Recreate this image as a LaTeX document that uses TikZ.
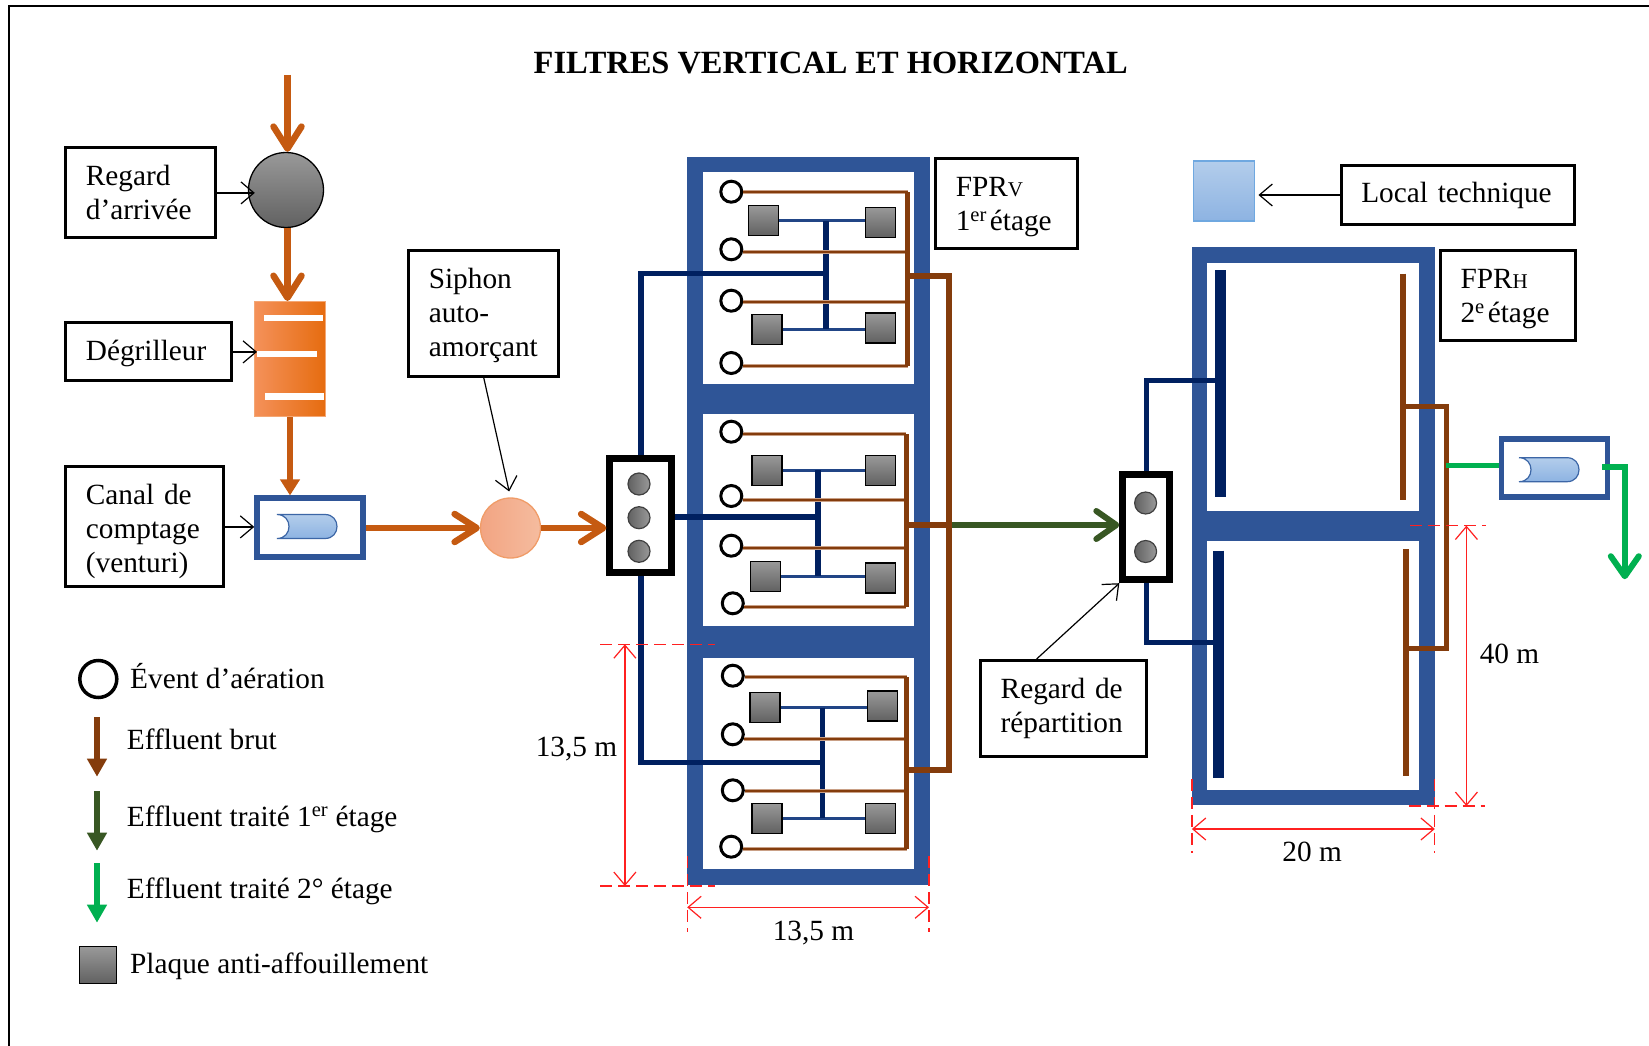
\documentclass[tikz,border=0pt]{standalone}
\usepackage{fontspec}
\setmainfont{Liberation Serif}
\usetikzlibrary{arrows.meta}

\definecolor{rawpipe}{HTML}{C55A11}
\definecolor{filterblue}{HTML}{2F5597}
\definecolor{navypipe}{HTML}{002060}
\definecolor{brownpipe}{HTML}{843C0C}
\definecolor{brownedge}{HTML}{C9A086}
\definecolor{darkgreen}{HTML}{385723}
\definecolor{lightgreen}{HTML}{00B050}
\definecolor{dimred}{HTML}{FF2020}
\definecolor{paleblue}{HTML}{B3CDEB}
\definecolor{midblue}{HTML}{8DB3E2}
\definecolor{skyedge}{HTML}{6FA8E0}
\definecolor{grillea}{HTML}{F4915A}
\definecolor{grilleb}{HTML}{F57C22}
\definecolor{grillec}{HTML}{E66C0F}
\definecolor{grilleedge}{HTML}{F4A774}
\definecolor{siphona}{HTML}{F2A482}
\definecolor{siphonb}{HTML}{F5BC9F}
\definecolor{siphonedge}{HTML}{F09C68}

\tikzset{
    every node/.style={font=\fontsize{29.3}{34}\selectfont},
    lbl/.style={draw=black, line width=3pt, anchor=north west, align=left, inner xsep=20pt, inner ysep=0pt},
    txt/.style={anchor=west, inner sep=0pt, text height=18pt, text depth=6pt},
    vent/.style={circle, draw=black, line width=3pt, fill=white, inner sep=0pt, minimum size=21pt},
    plate/.style={rectangle, draw=black, line width=1.4pt, top color=black!40, bottom color=black!62, inner sep=0pt, minimum size=30pt},
    ball/.style={circle, draw=black!75, line width=1.2pt, left color=black!62, right color=black!40, inner sep=0pt, minimum size=22pt},
    splitbox/.style={rectangle, draw=black, line width=7pt, fill=white, inner sep=0pt},
    canalbox/.style={rectangle, draw=filterblue, line width=5.5pt, fill=white, inner sep=0pt},
    rawflow/.style={draw=rawpipe, line width=6.5pt, -{Straight Barb[length=22pt,width=28pt,round]}},
    pointer/.style={draw=black, line width=1.2pt, -{Straight Barb[length=13pt,width=22pt]}},
    brownthin/.style={draw=brownedge, line width=4pt, postaction={draw=brownpipe, line width=2pt}},
    brownfat/.style={draw=brownpipe, line width=5pt},
    navyfat/.style={draw=navypipe, line width=5.5pt},
    navythin/.style={draw=filterblue!70!navypipe, line width=2.6pt},
    dimline/.style={draw=dimred, line width=1.2pt, {Straight Barb[length=13pt,width=22pt]}-{Straight Barb[length=13pt,width=22pt]}},
    dimdash/.style={draw=dimred, line width=1.2pt, dash pattern=on 12pt off 6pt},
    legendarrow/.style={line width=6.5pt, -{Triangle[length=18pt,width=19pt]}},
    venturi/.pic={
        \shade[top color=paleblue, bottom color=midblue, draw=filterblue!80!skyedge, line width=1.2pt]
            (-30,-12) -- (18,-12) .. controls (34,-12) and (34,12) .. (18,12) -- (-30,12) .. controls (-14,12) and (-14,-12) .. (-30,-12) -- cycle;
    }
}

\begin{document}
\begin{tikzpicture}[x=1pt, y=-1pt]
    \useasboundingbox (0,0) rectangle (1649,1046);
    \draw[line width=2pt] (8.5,1046) -- (8.5,6) -- (1649,6);

    \node[font=\fontsize{32.4}{32}\selectfont\bfseries, inner sep=0pt] (title) at (830.7,63) {FILTRES VERTICAL ET HORIZONTAL};

    % inlet line
    \coordinate (inlet) at (287.5,75);
    \node[circle, draw=black, line width=1.3pt, top color=black!40, bottom color=black!62, inner sep=0pt, minimum size=75pt] (regardcirc) at (286,190) {};
    \node[rectangle, draw=grilleedge, line width=1pt, left color=grillea, middle color=grilleb, right color=grillec, inner sep=0pt, minimum width=71pt, minimum height=115pt] (grille) at (290,359) {};
    \fill[white] (263.7,315.4) rectangle (323,321.4);
    \fill[white] (257.4,350.7) rectangle (316.7,356.8);
    \fill[white] (265.3,393) rectangle (324.2,400);
    \node[canalbox, minimum width=106pt, minimum height=59pt] (canalA) at (310,527.7) {};
    \pic at (307,526.5) {venturi};
    \node[circle, draw=siphonedge, line width=1.3pt, left color=siphona, right color=siphonb, inner sep=0pt, minimum size=60pt] (siphoncirc) at (510.5,528) {};

    \draw[rawflow] (inlet) -- (inlet |- regardcirc.north);
    \draw[rawflow] (regardcirc.south -| inlet) -- (inlet |- grille.north);
    \draw[draw=rawpipe, line width=6.5pt, -{Triangle[length=16pt,width=19pt]}] (grille.south) -- (grille |- canalA.north);
    \draw[rawflow] (canalA.east |- siphoncirc) -- (siphoncirc.west);

    % vertical filter
    \fill[filterblue] (686.7,156.7) rectangle (930,885);
    \fill[white] (702.7,172.3) rectangle (914,384);
    \fill[white] (702.7,414.3) rectangle (914,626);
    \fill[white] (702.7,657.7) rectangle (914,869.3);

    \node[splitbox, minimum width=62pt, minimum height=114pt] (splitV) at (640.9,515.3) {};
    \draw[rawflow] (siphoncirc.east) -- (siphoncirc -| splitV.west);

    \coordinate (treeA) at (826,273.3);
    \coordinate (treeB) at (818,517);
    \coordinate (treeC) at (822.7,762.3);
    \draw[navyfat] (splitV.north) |- (treeA);
    \draw[navyfat] (splitV.east |- treeB) -- (treeB);
    \draw[navyfat] (splitV.south) |- (treeC);

    \node[plate] (pA1) at (763.6,220.5) {};
    \node[plate] (pA2) at (880.5,222.2) {};
    \node[plate] (pA3) at (766.8,329.4) {};
    \node[plate] (pA4) at (880.5,327.8) {};
    \node[plate] (pB1) at (766.8,470.4) {};
    \node[plate] (pB2) at (880.5,470.4) {};
    \node[plate] (pB3) at (765.4,576.4) {};
    \node[plate] (pB4) at (880.5,577.8) {};
    \node[plate] (pC1) at (765.1,707.5) {};
    \node[plate] (pC2) at (882.2,706) {};
    \node[plate] (pC3) at (766.8,818.2) {};
    \node[plate] (pC4) at (880.3,818.2) {};

    \draw[navythin] (pA1.east) -- (pA1.east -| pA2.west);
    \draw[navythin] (pA3.east) -- (pA3.east -| pA4.west);
    \draw[navythin] (pB1.east) -- (pB2.west);
    \draw[navythin] (pB3.east) -- (pB3.east -| pB4.west);
    \draw[navythin] (pC1.east) -- (pC1.east -| pC2.west);
    \draw[navythin] (pC3.east) -- (pC4.west);
    \draw[navyfat] (pA1.east -| treeA) -- (pA3.east -| treeA);
    \draw[navyfat] (pB1.east -| treeB) -- (pB3.east -| treeB);
    \draw[navyfat] (pC1.east -| treeC) -- (pC3.east -| treeC);

    \node[vent] (vA1) at (731.3,191.7) {};
    \node[vent] (vA2) at (731.3,249.3) {};
    \node[vent] (vA3) at (731.3,300.7) {};
    \node[vent] (vA4) at (731.3,363) {};
    \node[vent] (vB1) at (731.3,431.7) {};
    \node[vent] (vB2) at (731.3,496) {};
    \node[vent] (vB3) at (731.3,545.7) {};
    \node[vent] (vB4) at (732.8,603.3) {};
    \node[vent] (vC1) at (732.8,675.7) {};
    \node[vent] (vC2) at (732.8,734.3) {};
    \node[vent] (vC3) at (732.8,790.3) {};
    \node[vent] (vC4) at (731.2,846.7) {};

    \coordinate (colA) at (907.7,192);
    \coordinate (colB) at (906,434);
    \coordinate (colC) at (906.5,677);
    \draw[brownthin] (vA1.0) -- (vA1.0 -| colA);
    \draw[brownthin] (vA2.-12) -- (vA2.-12 -| colA);
    \draw[brownthin] (vA3.-5) -- (vA3.-5 -| colA);
    \draw[brownthin] (vA4.-13) -- (vA4.-13 -| colA);
    \draw[brownthin] (vB1.-13) -- (vB1.-13 -| colB);
    \draw[brownthin] (vB2.-20) -- (vB2.-20 -| colB);
    \draw[brownthin] (vB3.-11) -- (vB3.-11 -| colB);
    \draw[brownthin] (vB4.-20) -- (vB4.-20 -| colB);
    \draw[brownthin] (vC1.-5) -- (vC1.-5 -| colC);
    \draw[brownthin] (vC2.-23) -- (vC2.-23 -| colC);
    \draw[brownthin] (vC3.-5) -- (vC3.-5 -| colC);
    \draw[brownthin] (vC4.-11) -- (vC4.-11 -| colC);
    \draw[brownfat] (colA) -- (vA4.-13 -| colA);
    \draw[brownfat] (colB) -- (vB4.-20 -| colB);
    \draw[brownfat] (colC) -- (vC4.-11 -| colC);

    \node[ball] (bA) at (639,484) {};
    \node[ball] (bB) at (639,517.7) {};
    \node[ball] (bC) at (639,551.3) {};

    % outflow of the vertical filter
    \node[splitbox, minimum width=47pt, minimum height=105pt] (splitH) at (1146.3,527.2) {};
    \node[ball] (bD) at (1145.6,503) {};
    \node[ball] (bE) at (1145.6,551.5) {};
    \coordinate (outA) at (908,276);
    \coordinate (outB) at (906,525);
    \coordinate (outC) at (906.5,770);
    \coordinate (riserV) at (949.3,525);
    \draw[draw=darkgreen, line width=6pt, -{Straight Barb[length=20pt,width=28pt,round]}] (riserV) -- (riserV -| splitH.west);
    \draw[brownfat, line width=6pt] (outA) -| (riserV) |- (outC);
    \draw[brownfat, line width=6pt] (outB) -- (riserV);

    % horizontal filter
    \fill[filterblue] (1191.9,247.2) rectangle (1434.8,805);
    \fill[white] (1207.3,262.5) rectangle (1419,510.8);
    \fill[white] (1207.3,541) rectangle (1419,789.8);

    \coordinate (barA) at (1220.4,380.7);
    \coordinate (barB) at (1218.7,642.4);
    \draw[navyfat] (splitH.north) |- (barA);
    \draw[navyfat] (splitH.south) |- (barB);
    \draw[navypipe, line width=11.5pt] (1220.4,270) -- (1220.4,497);
    \draw[navypipe, line width=11.5pt] (1218.7,550.5) -- (1218.7,777.8);
    \draw[brownpipe, line width=6.2pt] (1402.9,273.5) -- (1402.9,500.3);
    \draw[brownpipe, line width=6.2pt] (1406.3,549) -- (1406.3,776.4);
    \coordinate (outD) at (1402.9,406.5);
    \coordinate (outE) at (1406.3,648);
    \coordinate (riserH) at (1446.4,465.8);
    \draw[brownfat] (outD) -| (riserH) |- (outE);

    \node[canalbox, minimum width=106pt, minimum height=58pt] (canalB) at (1554.4,468.2) {};
    \pic at (1549,469.7) {venturi};
    \draw[lightgreen, line width=5pt] (riserH) -- (riserH -| canalB.west);
    \coordinate (outF) at (1602.4,467.3);
    \coordinate (drain) at (1624.8,579.2);
    \draw[draw=lightgreen, line width=6pt, -{Straight Barb[length=20pt,width=28pt,round]}] (outF) -| (drain);

    % local technique
    \node[rectangle, draw=skyedge, line width=1.3pt, top color=paleblue, bottom color=midblue, inner sep=0pt, minimum width=61pt, minimum height=60pt] (localsq) at (1224.3,191) {};

    % labels
    \node[lbl, minimum width=150pt, minimum height=90pt, text width=110pt] (lblregard) at (64.4,146.4) {Regard\\d’arrivée};
    \node[lbl, minimum width=166pt, minimum height=58pt, text width=126pt] (lbldeg) at (64.4,321.4) {\rule{0pt}{24pt}Dégrilleur};
    \node[lbl, minimum width=158pt, minimum height=120pt, text width=118pt] (lblcanal) at (64.4,465.4) {\rule{0pt}{30pt}Canal de\\comptage\\(venturi)};
    \node[lbl, minimum width=150pt, minimum height=126pt, text width=110pt] (lblsiphon) at (407.3,249) {\rule{0pt}{24pt}Siphon\\auto-\\amorçant};
    \node[lbl, minimum width=142pt, minimum height=90pt, text width=102pt] (lblfprv) at (934.3,157.3) {\rule{0pt}{26pt}FPR{\fontsize{21}{21}\selectfont V}\\\mbox{1\textsuperscript{er}\hspace{3pt}étage}};
    \node[lbl, minimum width=166pt, minimum height=96pt, text width=126pt] (lblrep) at (979.2,659) {Regard de\\répartition};
    \node[lbl, minimum width=233pt, minimum height=59pt, text width=193pt] (lbllocal) at (1339.8,164) {Local technique};
    \node[lbl, minimum width=135pt, minimum height=90pt, text width=95pt] (lblfprh) at (1439,249) {\rule{0pt}{26pt}FPR{\fontsize{21}{21}\selectfont H}\\\mbox{2\textsuperscript{e}\hspace{3pt}étage}};

    \coordinate (reptail) at (1036.6,659);
    \draw[pointer, shorten >=-7pt] (lblregard.east) -- (lblregard.east -| regardcirc.west);
    \draw[pointer, shorten >=-3pt] (lbldeg.east) -- (lbldeg.east -| grille.west);
    \draw[pointer] (lblcanal.east) -- (lblcanal.east -| canalA.west);
    \draw[pointer, shorten >=6pt] (lblsiphon.south) -- (siphoncirc.north);
    \draw[pointer, shorten >=3pt] (lbllocal.west) -- (lbllocal.west -| localsq.east);
    \draw[pointer] (reptail) -- (splitH.south west);

    % dimensions
    \coordinate (dimVa) at (624.9,644.3);
    \coordinate (dimVb) at (624.9,886);
    \coordinate (dimWa) at (687.2,907.3);
    \coordinate (dimWb) at (929,907.3);
    \coordinate (dimHa) at (1466.4,525.6);
    \coordinate (dimHb) at (1466.4,806);
    \coordinate (dimLa) at (1191.9,829);
    \coordinate (dimLb) at (1434.8,829);
    \draw[dimdash] (600.4,644.3) -- (715,644.3);
    \draw[dimdash] (600.4,886) -- (715,886);
    \draw[dimdash] (687.2,856) -- (687.2,931.7);
    \draw[dimdash] (929,856) -- (929,931.7);
    \draw[dimdash] (1410.3,525.6) -- (1485.7,525.6);
    \draw[dimdash] (1408.5,806) -- (1484.6,806);
    \draw[dimdash] (1191.9,778.8) -- (1191.9,853);
    \draw[dimdash] (1434.8,778.8) -- (1434.8,853);
    \draw[dimline] (dimVa) -- (dimVb);
    \draw[dimline] (dimWa) -- (dimWb);
    \draw[dimline] (dimHa) -- (dimHb);
    \draw[dimline] (dimLa) -- (dimLb);
    \node[inner sep=0pt] (lenA) at (576.5,749) {13,5 m};
    \node[inner sep=0pt] (lenB) at (813.5,933) {13,5 m};
    \node[inner sep=0pt] (lenC) at (1509.5,654) {40 m};
    \node[inner sep=0pt] (lenD) at (1312.1,852) {20 m};

    % legend
    \node[vent, line width=3.5pt, minimum size=37pt] (legvent) at (98.3,679) {};
    \node[txt] (legA) at (130,682) {Évent d’aération};
    \coordinate (legbrut) at (97,717.3);
    \coordinate (legun) at (97,791);
    \coordinate (legdeux) at (97,863.3);
    \draw[legendarrow, draw=brownpipe, fill=brownpipe] (legbrut) -- ++(0,59.4);
    \draw[legendarrow, draw=darkgreen, fill=darkgreen] (legun) -- ++(0,59.7);
    \draw[legendarrow, draw=lightgreen, fill=lightgreen] (legdeux) -- ++(0,59.4);
    \node[txt] (legB) at (126.7,743) {Effluent brut};
    \node[txt] (legC) at (126.7,820) {Effluent traité 1\textsuperscript{er} étage};
    \node[txt] (legD) at (126.7,892) {Effluent traité 2° étage};
    \node[plate, minimum size=37pt] (legplate) at (97.8,965) {};
    \node[txt] (legE) at (130,967.5) {Plaque anti-affouillement};
\end{tikzpicture}
\end{document}
